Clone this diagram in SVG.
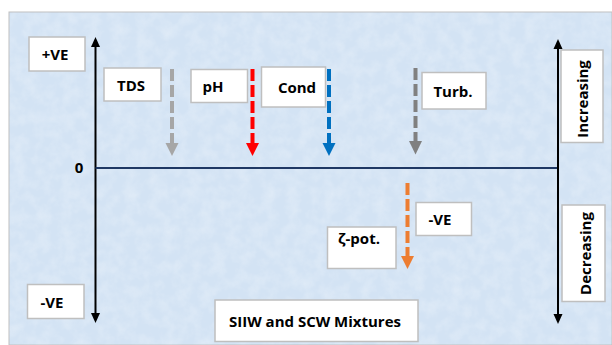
<svg xmlns="http://www.w3.org/2000/svg" width="612" height="345" viewBox="0 0 612 345">
<style>
.box{fill:#ffffff;stroke:#bfbfbf;stroke-width:1.5}
.t{font-family:"Open Sans","Liberation Sans",sans-serif;font-weight:bold;font-size:15px;fill:#000;text-anchor:middle}
.axis{stroke:#000;stroke-width:2;fill:none}
.dash{stroke-width:4;stroke-dasharray:12 4;fill:none}
</style>
<defs>
<filter id="tex" x="0" y="0" width="100%" height="100%">
<feTurbulence type="fractalNoise" baseFrequency="0.08" numOctaves="3" seed="4" result="n"/>
<feColorMatrix in="n" type="matrix" values="0 0 0 0 1  0 0 0 0 1  0 0 0 0 1  0 0 0 0.9 -0.3" result="w"/>
<feComposite in="w" in2="SourceGraphic" operator="in"/>
</filter>
</defs>
<rect width="612" height="345" fill="#ffffff"/>
<g id="background">
<rect x="9" y="12" width="603" height="333" fill="#d3e3f4" stroke="#c0c0c0" stroke-width="1"/>
<rect x="9.5" y="12.5" width="602" height="332" fill="#d3e3f4" filter="url(#tex)" opacity="0.5"/>
</g>
<g id="connectors">
<line class="axis" x1="95.5" y1="314" x2="95.5" y2="46"/>
<path d="M91,47 L100,47 L95.5,37 z" fill="#000"/>
<path d="M91,313 L100,313 L95.5,323 z" fill="#000"/>
<line x1="95.5" y1="168" x2="558" y2="168" stroke="#1f3864" stroke-width="2"/>
<line class="axis" x1="558" y1="315" x2="558" y2="48"/>
<path d="M553.5,49 L562.5,49 L558,39 z" fill="#000"/>
<path d="M553.5,314 L562.5,314 L558,324 z" fill="#000"/>
<g id="arrow-tds"><line class="dash" x1="172" y1="69" x2="172" y2="143" stroke="#a6a6a6"/><path d="M165.5,143 L178.5,143 L172,156 z" fill="#a6a6a6"/></g>
<g id="arrow-ph"><line class="dash" x1="252.5" y1="69" x2="252.5" y2="143" stroke="#ff0000"/><path d="M246,143 L259,143 L252.5,156 z" fill="#ff0000"/></g>
<g id="arrow-cond"><line class="dash" x1="329" y1="69" x2="329" y2="143" stroke="#0070c0"/><path d="M322.5,143 L335.5,143 L329,156 z" fill="#0070c0"/></g>
<g id="arrow-turb"><line class="dash" x1="415.5" y1="68" x2="415.5" y2="141" stroke="#808080"/><path d="M409,141 L422,141 L415.5,154.5 z" fill="#808080"/></g>
<g id="arrow-zeta"><line class="dash" x1="407.5" y1="183" x2="407.5" y2="256" stroke="#ed7d31"/><path d="M401,256 L414,256 L407.5,269 z" fill="#ed7d31"/></g>
</g>
<g id="pos-ve"><rect class="box" x="29" y="37" width="56" height="34"/><text class="t" x="55" y="60">+VE</text></g>
<g id="neg-ve-left"><rect class="box" x="27.5" y="284.5" width="56.5" height="34"/><text class="t" x="52" y="307.5">-VE</text></g>
<g id="zero"><text class="t" x="79" y="173">0</text></g>
<g id="tds"><rect class="box" x="104" y="68" width="57" height="33"/><text class="t" x="131" y="91">TDS</text></g>
<g id="ph"><rect class="box" x="191" y="69.5" width="56.5" height="33"/><text class="t" x="213" y="91.5">pH</text></g>
<g id="cond"><rect class="box" x="261.5" y="67" width="64" height="40"/><text class="t" x="297" y="92.5">Cond</text></g>
<g id="turb"><rect class="box" x="422" y="72.5" width="64" height="36.5"/><text class="t" x="453" y="96.5">Turb.</text></g>
<g id="neg-ve-right"><rect class="box" x="416" y="202.5" width="55.5" height="33"/><text class="t" x="440" y="225">-VE</text></g>
<g id="zeta"><rect class="box" x="327.5" y="227" width="68.5" height="41.5"/><text class="t" x="359" y="244">ζ-pot.</text></g>
<g id="mixtures"><rect class="box" x="215" y="300" width="203" height="41.5"/><text class="t" x="315" y="326.5">SIIW and SCW Mixtures</text></g>
<g id="increasing"><rect class="box" x="561" y="50" width="42" height="92.5"/><text class="t" transform="translate(588,99) rotate(-90)">Increasing</text></g>
<g id="decreasing"><rect class="box" x="562" y="205" width="43" height="96.5"/><text class="t" transform="translate(590.5,253.5) rotate(-90)">Decreasing</text></g>
</svg>
